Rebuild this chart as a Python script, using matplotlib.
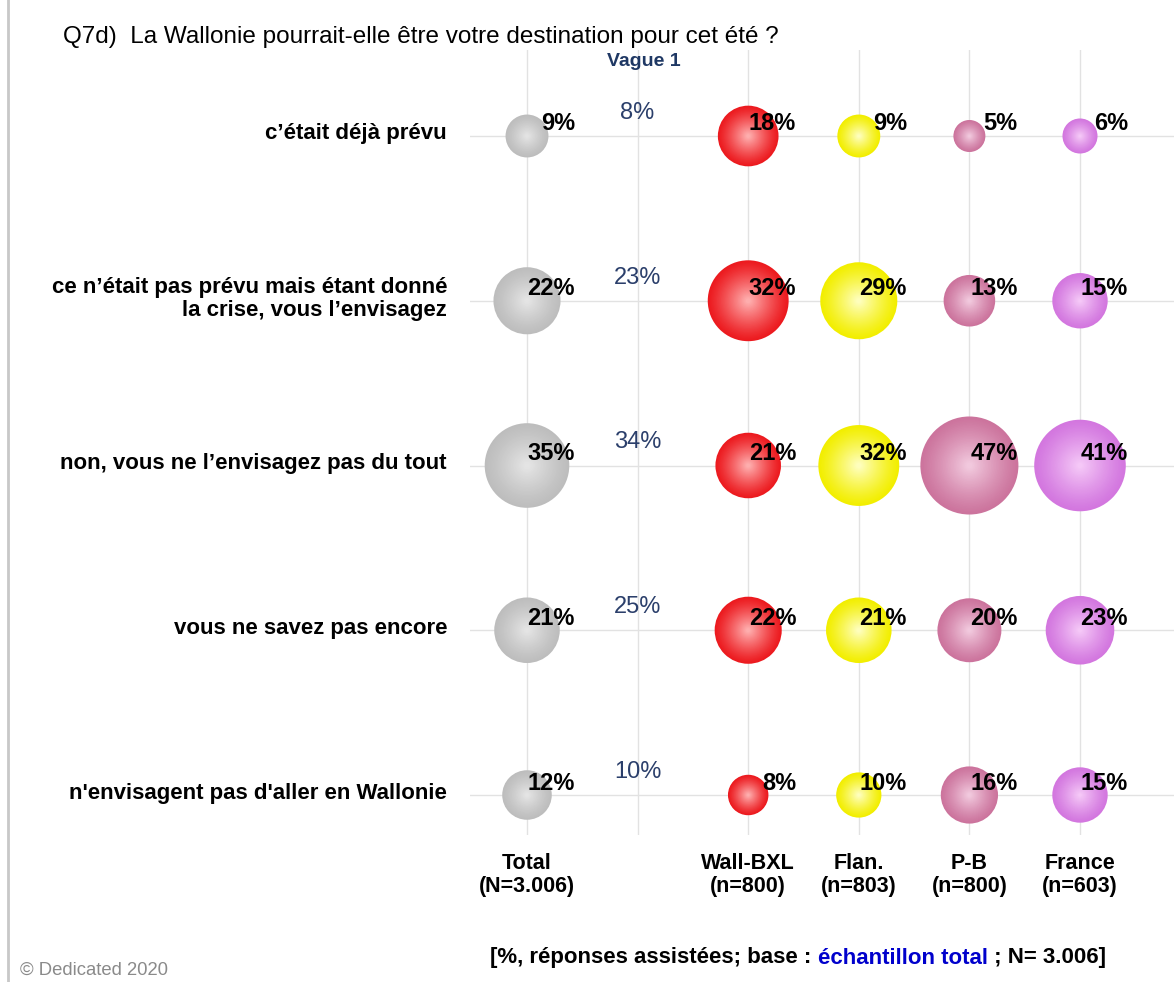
import matplotlib
matplotlib.use("Agg")
import matplotlib.pyplot as plt
import numpy as np
from matplotlib.colors import to_rgb

# ---- data ----
rows = ["c’était déjà prévu",
        "ce n’était pas prévu mais étant donné\nla crise, vous l’envisagez",
        "non, vous ne l’envisagez pas du tout",
        "vous ne savez pas encore",
        "n'envisagent pas d'aller en Wallonie"]
total = [9, 22, 35, 21, 12]
vague1 = [8, 23, 34, 25, 10]
wall_bxl = [18, 32, 21, 22, 8]
flandre = [9, 29, 32, 21, 10]
pays_bas = [5, 13, 47, 20, 16]
france = [6, 15, 41, 23, 15]
col_labels = ["Total\n(N=3.006)", "", "Wall-BXL\n(n=800)", "Flan.\n(n=803)",
              "P-B\n(n=800)", "France\n(n=603)"]

series = [total, None, wall_bxl, flandre, pays_bas, france]
edge_cols = ["#bdbdbd", None, "#ec1a1f", "#f2ee00", "#cc749d", "#d377df"]
center_cols = ["#e6e6e6", None, "#ffb3b3", "#ffffc4", "#f3cce0", "#f6caf8"]

W, H = 1174, 982
DPI = 100
fig = plt.figure(figsize=(W / DPI, H / DPI), dpi=DPI)
fig.patch.set_facecolor("white")
FAM = "Liberation Sans"

# axes placement in pixels
ax_l, ax_r, ax_t, ax_b = 470, 1174, 50, 835
ax = fig.add_axes([ax_l / W, 1 - ax_b / H, (ax_r - ax_l) / W, (ax_b - ax_t) / H])
col0, dcol = 527, 110.6
row0, drow = 136, 164.75
ax.set_xlim((ax_l - col0) / dcol, (ax_r - col0) / dcol)
ax.set_ylim((ax_b - row0) / drow, (ax_t - row0) / drow)
ax.axis("off")

grid_c = "#e2e2e2"
for i in range(len(col_labels)):
    ax.axvline(i, color=grid_c, lw=1, zorder=0)
for j in range(len(rows)):
    ax.axhline(j, color=grid_c, lw=1, zorder=0)

# bubble size: radius px = 7.15*sqrt(v)
px_per_pt = DPI / 72.0
K = (2 * 7.15 / px_per_pt) ** 2

N = 30
for ci, vals in enumerate(series):
    if vals is None:
        continue
    e = np.array(to_rgb(edge_cols[ci]))
    c = np.array(to_rgb(center_cols[ci]))
    xs = np.full(len(vals), ci)
    ys = np.arange(len(vals))
    v = np.array(vals, dtype=float)
    for k in range(N):
        t = k / N
        rf = 1 - t * 0.97
        w = t ** 1.2
        col = e * (1 - w) + c * w
        ax.scatter(xs, ys, s=K * v * rf ** 2, color=col, edgecolors="none",
                   zorder=2 + k * 0.01)
    for yi, val in enumerate(vals):
        ax.annotate(f"{val}%", (ci, yi), xytext=(48 / px_per_pt, 12 / px_per_pt),
                    textcoords="offset points", ha="right", va="center",
                    fontsize=17, fontweight="bold", color="black",
                    family=FAM, zorder=5)

# Vague 1 values
for yi, val in enumerate(vague1):
    ax.annotate(f"{val}%", (1, yi), xytext=(0, 23 / px_per_pt),
                textcoords="offset points", ha="center", va="center",
                fontsize=17, color="#2b3f6b", family=FAM, zorder=5)

# row labels
for yi, lab in enumerate(rows):
    fig.text(447 / W, 1 - (row0 + drow * yi - 2) / H, lab, ha="right", va="center",
             multialignment="right", fontsize=16, fontweight="bold",
             family=FAM, linespacing=1.15)

# column labels
for ci, lab in enumerate(col_labels):
    if not lab:
        continue
    fig.text((col0 + dcol * ci) / W, 1 - 875 / H, lab, ha="center", va="center",
             fontsize=15.5, fontweight="bold", family=FAM,
             linespacing=1.1)

# Title and header
fig.text(63 / W, 1 - 37 / H,
         "Q7d)  La Wallonie pourrait-elle être votre destination pour cet été ?",
         ha="left", va="center", fontsize=17.5, family=FAM)
fig.text(644 / W, 1 - 62 / H, "Vague 1", ha="center", va="center",
         fontsize=14, fontweight="bold", color="#1f3864", family=FAM)

# footer
parts = [("[%, réponses assistées; base : ", "black"),
         ("échantillon total", "#0000cc"),
         (" ; N= 3.006]", "black")]
fig.canvas.draw()
renderer = fig.canvas.get_renderer()
x = 490
for txt, colr in parts:
    t = fig.text(x / W, 1 - 958 / H, txt, ha="left", va="center", fontsize=16,
                 fontweight="bold", color=colr, family=FAM)
    bb = t.get_window_extent(renderer=renderer)
    x += bb.width

fig.text(20 / W, 1 - 970 / H, "© Dedicated 2020", ha="left", va="center",
         fontsize=13.3, color="#8a8a8a", family=FAM)

# left border line
fig.add_artist(plt.Line2D([8 / W, 8 / W], [0, 1], color="#c8c8c8", lw=2,
                          transform=fig.transFigure))

fig.savefig("out.png", dpi=DPI)
